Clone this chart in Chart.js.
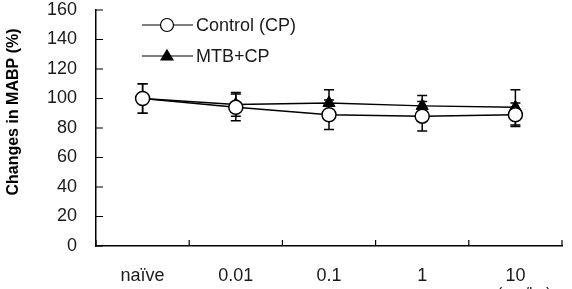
<!DOCTYPE html>
<html>
<head>
<meta charset="utf-8">
<script src="https://cdn.jsdelivr.net/npm/chart.js@4"></script>
<style>
    html, body { margin: 0; padding: 0; background: #ffffff; }
    #wrap { width: 572px; height: 289px; }
</style>
</head>
<body>
<div id="wrap"><canvas id="mabpChart"></canvas></div>
<script>

/* =========================
DATA
========================= */

const categories = ["naïve", "0.01", "0.1", "1", "10"];

const controlValues = [100, 94, 89, 88, 89];
const controlErrors = [10, 9, 10, 10, 8];

const mtbValues = [100, 96, 97, 95, 94];
const mtbErrors = [10, 8, 9, 7, 12];

const yTicks = [0, 20, 40, 60, 80, 100, 120, 140, 160];

const seriesNames = ["Control (CP)", "MTB+CP"];

const yTitle = "Changes in MABP (%)";
const xUnit = "(mg/kg)";

const FONT = "'Liberation Sans', Arial, sans-serif";

/* =========================
PLUGINS
========================= */

// error bars, drawn under the markers
const errorBars = {

    id: "errorBars",

    beforeDatasetsDraw(chart) {

        const ctx = chart.ctx;
        const x = chart.scales.x;
        const y = chart.scales.y;

        const sets = [
            [controlValues, controlErrors],
            [mtbValues, mtbErrors]
        ];

        ctx.save();
        ctx.strokeStyle = "#000000";
        ctx.lineWidth = 1.5;

        sets.forEach(([vals, errs]) => {

            vals.forEach((v, i) => {

                const px = x.getPixelForValue(i);
                const top = y.getPixelForValue(v + errs[i]);
                const bot = y.getPixelForValue(v - errs[i]);

                ctx.beginPath();
                ctx.moveTo(px, top);
                ctx.lineTo(px, bot);
                ctx.moveTo(px - 5, top);
                ctx.lineTo(px + 5, top);
                ctx.moveTo(px - 5, bot);
                ctx.lineTo(px + 5, bot);
                ctx.stroke();

            });

        });

        ctx.restore();

    }

};

// inward tick marks on both axes
const innerTicks = {

    id: "innerTicks",

    afterDraw(chart) {

        const ctx = chart.ctx;
        const x = chart.scales.x;
        const y = chart.scales.y;
        const area = chart.chartArea;

        ctx.save();
        ctx.strokeStyle = "#000000";
        ctx.lineWidth = 1.2;
        ctx.beginPath();

        for (let i = 0; i <= categories.length; i++) {

            const px = x.getPixelForValue(i - 0.5);
            ctx.moveTo(px, area.bottom);
            ctx.lineTo(px, area.bottom - 6);

        }

        yTicks.forEach(t => {

            const py = y.getPixelForValue(t);
            ctx.moveTo(area.left, py);
            ctx.lineTo(area.left + 7, py);

        });

        ctx.stroke();
        ctx.restore();

    }

};

// legend: short line with the marker on it, then the name
const lineLegend = {

    id: "lineLegend",

    afterDraw(chart) {

        const ctx = chart.ctx;
        const area = chart.chartArea;

        ctx.save();

        chart.data.datasets.forEach((ds, i) => {

            const yy = area.top + 15 + i * 31;
            const x0 = area.left + 46;

            ctx.strokeStyle = "#000000";
            ctx.lineWidth = 1.2;
            ctx.beginPath();
            ctx.moveTo(x0, yy);
            ctx.lineTo(x0 + 51, yy);
            ctx.stroke();

            ctx.fillStyle = ds.pointBackgroundColor;
            ctx.lineWidth = 1.2;
            ctx.beginPath();

            if (ds.pointStyle === "triangle") {
                ctx.moveTo(x0 + 25, yy - 6);
                ctx.lineTo(x0 + 31, yy + 4);
                ctx.lineTo(x0 + 19, yy + 4);
                ctx.closePath();
            } else {
                ctx.arc(x0 + 25, yy, 6.5, 0, Math.PI * 2);
            }

            ctx.fill();
            ctx.stroke();

            ctx.fillStyle = "#1a1a1a";
            ctx.font = "18px " + FONT;
            ctx.textBaseline = "middle";
            ctx.fillText(ds.label, x0 + 54, yy + 1);

        });

        ctx.restore();

    }

};

// rotated y title, placed a little above the axis middle like the original,
// plus the unit under the x axis that the original cuts off at the bottom
const sideTitle = {

    id: "sideTitle",

    afterDraw(chart) {

        const ctx = chart.ctx;

        ctx.save();
        ctx.translate(14, 112);
        ctx.rotate(-Math.PI / 2);
        ctx.fillStyle = "#000000";
        ctx.font = "bold 16px " + FONT;
        ctx.textAlign = "center";
        ctx.textBaseline = "middle";
        ctx.fillText(yTitle, 0, 0);
        ctx.restore();

        ctx.save();
        ctx.fillStyle = "#1a1a1a";
        ctx.font = "16px " + FONT;
        ctx.textBaseline = "top";
        ctx.fillText(xUnit, 497, 287);
        ctx.restore();

    }

};

/* =========================
CHART
========================= */

const tickFont = {
    family: FONT,
    size: 18
};

new Chart(document.getElementById("mabpChart"), {

    type: "line",

    data: {

        labels: categories,

        datasets: [

            {
                label: seriesNames[0],
                data: controlValues,
                borderColor: "#000000",
                borderWidth: 1.5,
                pointStyle: "circle",
                pointRadius: 7,
                pointBackgroundColor: "#ffffff",
                pointBorderColor: "#000000",
                pointBorderWidth: 1.5,
                tension: 0
            },

            {
                label: seriesNames[1],
                data: mtbValues,
                borderColor: "#000000",
                borderWidth: 1.5,
                pointStyle: "triangle",
                pointRadius: 7,
                pointBackgroundColor: "#000000",
                pointBorderColor: "#000000",
                pointBorderWidth: 1,
                tension: 0
            }

        ]

    },

    options: {

        responsive: true,
        maintainAspectRatio: false,
        animation: false,

        layout: {
            padding: { top: 10, right: 10, left: 0, bottom: 0 }
        },

        plugins: {
            legend: { display: false },
            tooltip: { enabled: false }
        },

        scales: {

            x: {
                type: "category",
                offset: true,
                grid: { display: false, drawTicks: false },
                border: { display: true, color: "#000000", width: 1.5 },
                ticks: {
                    color: "#1a1a1a",
                    font: tickFont,
                    padding: 19,
                    maxRotation: 0
                },
                afterFit(scale) {
                    scale.height = 43;
                    scale.paddingLeft = 0;
                    scale.paddingRight = 0;
                }
            },

            y: {
                min: 0,
                max: 160,
                grid: { display: false, drawTicks: false },
                border: { display: true, color: "#000000", width: 1.5 },
                afterBuildTicks(scale) {
                    scale.ticks = yTicks.map(v => ({ value: v }));
                },
                ticks: {
                    color: "#1a1a1a",
                    font: tickFont,
                    padding: 19
                },
                afterFit(scale) {
                    scale.width = 96;
                    scale.paddingTop = 0;
                    scale.paddingBottom = 0;
                }
            }

        }

    },

    plugins: [errorBars, innerTicks, lineLegend, sideTitle]

});

</script>
</body>
</html>
